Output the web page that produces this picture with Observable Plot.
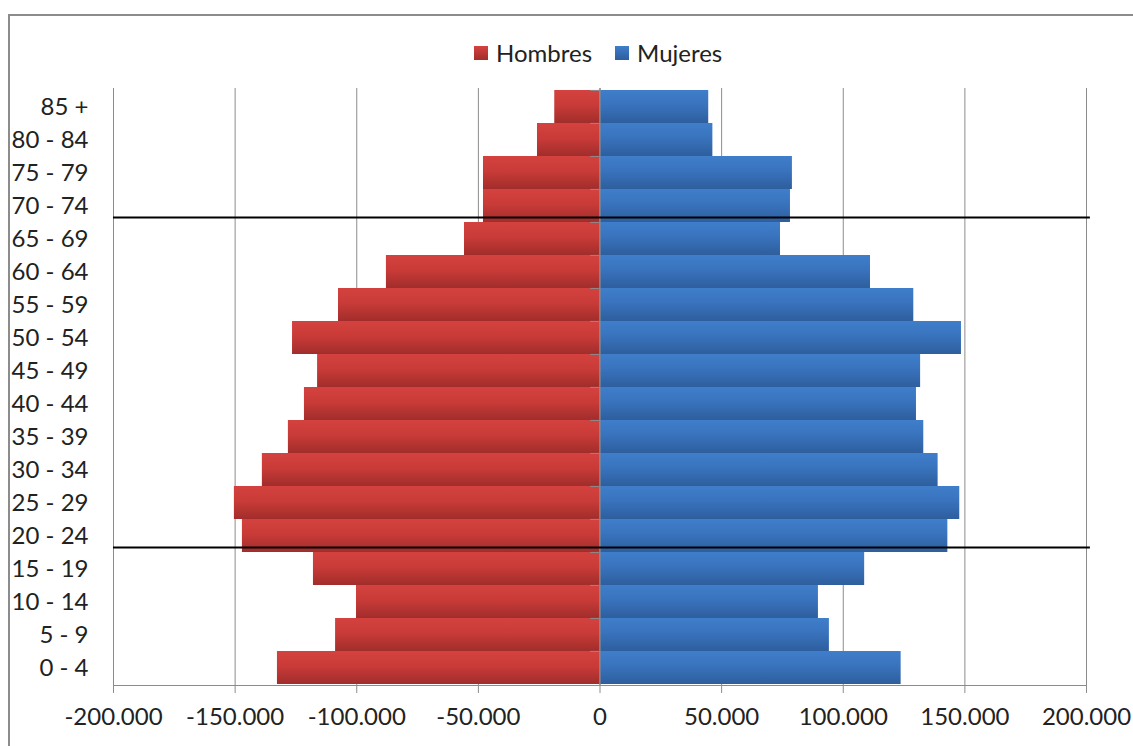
<!DOCTYPE html>
<html>
<head>
<meta charset="utf-8">
<script src="https://cdn.jsdelivr.net/npm/d3@7"></script>
<script src="https://cdn.jsdelivr.net/npm/@observablehq/plot@0.6"></script>
<style>
  body { margin: 0; background: #fff; font-family: Lato, "Open Sans", sans-serif; }
  #wrap { position: relative; width: 1133px; height: 746px; overflow: hidden; background: #fff; }
  #frame { position: absolute; left: 8px; top: 14px; width: 1150px; height: 780px; border: 2px solid #8c8c8c; box-sizing: border-box; }
  #chart { position: absolute; left: 0; top: 0; }
  #chart svg text { fill: #222; }
  #chart g[aria-label="rect"] { filter: url(#shadow); }
  #legend { position: absolute; left: 474px; top: 37px; display: flex; align-items: center; font-size: 24px; color: #222; line-height: 32px; }
  #legend .item { display: flex; align-items: center; margin-right: 23px; }
  #legend .sw { width: 14px; height: 14px; margin-right: 8px; }
</style>
</head>
<body>
<div id="wrap">
  <svg width="0" height="0" style="position:absolute">
    <defs>
      <linearGradient id="gradRed" x1="0" y1="0" x2="0" y2="1">
        <stop offset="0" stop-color="#d4423f"/>
        <stop offset="0.45" stop-color="#c93b38"/>
        <stop offset="1" stop-color="#a12d2b"/>
      </linearGradient>
      <linearGradient id="gradBlue" x1="0" y1="0" x2="0" y2="1">
        <stop offset="0" stop-color="#3f7ecb"/>
        <stop offset="0.45" stop-color="#3973bd"/>
        <stop offset="1" stop-color="#2e5e9d"/>
      </linearGradient>
      <filter id="shadow" x="-10%" y="-10%" width="130%" height="130%">
        <feDropShadow dx="2" dy="2" stdDeviation="1.6" flood-color="#000" flood-opacity="0.35"/>
      </filter>
    </defs>
  </svg>
  <div id="frame"></div>
  <div id="chart"></div>
  <div id="legend">
    <div class="item"><div class="sw" style="background:linear-gradient(#d4423f,#a12d2b)"></div><span id="lg0"></span></div>
    <div class="item"><div class="sw" style="background:linear-gradient(#3f7ecb,#2e5e9d)"></div><span id="lg1"></span></div>
  </div>
</div>
<script>
// Age groups, top to bottom
const ages = ["85 +","80 - 84","75 - 79","70 - 74","65 - 69","60 - 64","55 - 59","50 - 54","45 - 49","40 - 44","35 - 39","30 - 34","25 - 29","20 - 24","15 - 19","10 - 14","5 - 9","0 - 4"];
// Population by sex (men drawn to the left)
const hombres = [18600, 25700, 47900, 47900, 55700, 87800, 107500, 126400, 116100, 121500, 128100, 138800, 150300, 147000, 117800, 100100, 108700, 132600];
const mujeres = [44700, 46400, 79100, 78300, 74200, 111200, 129000, 148600, 131800, 130100, 133100, 139000, 147900, 143000, 108800, 89800, 94300, 123800];
const seriesNames = ["Hombres", "Mujeres"];
const xTicks = [-200000, -150000, -100000, -50000, 0, 50000, 100000, 150000, 200000];
// Reference lines drawn below these age groups
const markedGroups = ["70 - 74", "20 - 24"];

document.getElementById("lg0").textContent = seriesNames[0];
document.getElementById("lg1").textContent = seriesNames[1];

const data = ages.map((a, i) => ({age: a, hombres: hombres[i], mujeres: mujeres[i]}));
const loc = d3.formatLocale({decimal: ",", thousands: ".", grouping: [3], currency: ["", ""], minus: "-"});
const fmt = loc.format(",");

const H = 746, mt = 88, mb = 61;
const bw = (H - mt - mb) / ages.length;

const plot = Plot.plot({
  width: 1133,
  height: H,
  marginTop: mt,
  marginBottom: mb,
  marginLeft: 113,
  marginRight: 47,
  style: {fontSize: "24px", fontFamily: "Lato, 'Open Sans', sans-serif", color: "#8c8c8c", background: "transparent", overflow: "visible"},
  x: {domain: [-200000, 200000], ticks: xTicks, tickFormat: d => d === 0 ? "0" : fmt(d), tickSize: 8, tickPadding: 14, label: null, line: true},
  y: {domain: ages, padding: 0, tickSize: 0, tickPadding: 25, label: null},
  marks: [
    Plot.ruleX(xTicks, {stroke: "#8c8c8c", strokeWidth: 1}),
    Plot.barX(data, {y: "age", x: d => -d.hombres, fill: "url(#gradRed)"}),
    Plot.barX(data, {y: "age", x: "mujeres", fill: "url(#gradBlue)"}),
    Plot.ruleX([0], {stroke: "#8c8c8c", strokeWidth: 1.2}),
    Plot.ruleY(ages, {y: d => d, x1: -3800, x2: 0, dy: -bw / 2, stroke: "#8c8c8c", strokeWidth: 1}),
    Plot.ruleY(markedGroups, {y: d => d, x1: -200000, x2: 201600, dy: bw / 2 - 5, stroke: "#000", strokeWidth: 2})
  ]
});
document.getElementById("chart").appendChild(plot);
</script>
</body>
</html>
